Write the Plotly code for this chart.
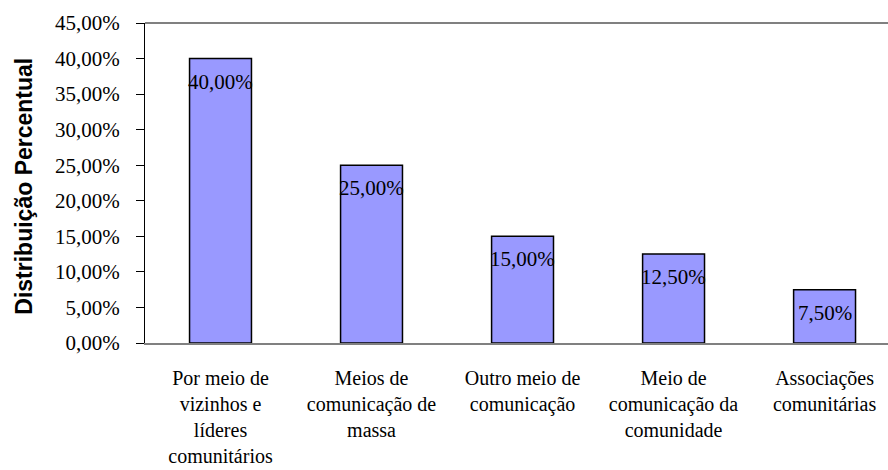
import plotly.graph_objects as go

BAR_FILL = "#9999FF"
AXIS_GRAY = "#808080"

categories = [
    "Por meio de<br>vizinhos e<br>líderes<br>comunitários",
    "Meios de<br>comunicação de<br>massa",
    "Outro meio de<br>comunicação",
    "Meio de<br>comunicação da<br>comunidade",
    "Associações<br>comunitárias",
]
shares = [40.0, 25.0, 15.0, 12.5, 7.5]
share_labels = ["40,00%", "25,00%", "15,00%", "12,50%", "7,50%"]

y_ticks = [0, 5, 10, 15, 20, 25, 30, 35, 40, 45]
y_tick_labels = ["%d,00%%" % v for v in y_ticks]

SERIF = "Liberation Serif"

fig = go.Figure()
fig.add_trace(go.Bar(
    x=categories,
    y=shares,
    width=0.41,
    marker=dict(color=BAR_FILL, line=dict(color="black", width=1.5)),
    hoverinfo="skip",
))

for cat, val, lab in zip(categories, shares, share_labels):
    fig.add_annotation(
        x=cat, y=val, text=lab, showarrow=False,
        yanchor="middle", yshift=-23,
        font=dict(family=SERIF, size=21, color="black"),
    )

# y title placed by hand so it sits where the original has it
fig.add_annotation(
    text="<b>Distribuição Percentual</b>",
    xref="paper", yref="paper", x=-0.164, y=0.489,
    xanchor="center", yanchor="middle", textangle=-90, showarrow=False,
    font=dict(family="Liberation Sans", size=23, color="black"),
)

fig.update_layout(
    width=888,
    height=470,
    margin=dict(l=145, r=0, t=23, b=127),
    paper_bgcolor="white",
    plot_bgcolor="white",
    showlegend=False,
    font=dict(family=SERIF, size=20, color="black"),
    shapes=[dict(type="line", xref="paper", yref="paper", x0=0, x1=1, y0=1, y1=1,
                 line=dict(color=AXIS_GRAY, width=2))],
)

fig.update_xaxes(
    range=[-0.5, 4.42],
    automargin=False,
    showgrid=False,
    zeroline=False,
    showline=True,
    linecolor=AXIS_GRAY,
    linewidth=2,
    ticks="",
    tickangle=0,
    ticklabelstandoff=16,
    tickfont=dict(family=SERIF, size=20, color="black"),
)

fig.update_yaxes(
    range=[0, 45],
    automargin=False,
    tickvals=y_ticks,
    ticktext=y_tick_labels,
    showgrid=False,
    zeroline=False,
    showline=True,
    linecolor="black",
    linewidth=1,
    ticks="outside",
    ticklen=8,
    tickcolor="black",
    ticklabelstandoff=12,
    tickfont=dict(family=SERIF, size=21, color="black"),
)

fig.write_html(
    "out.html",
    config={"displayModeBar": False},
    post_script="document.body.style.margin='0';",
)
